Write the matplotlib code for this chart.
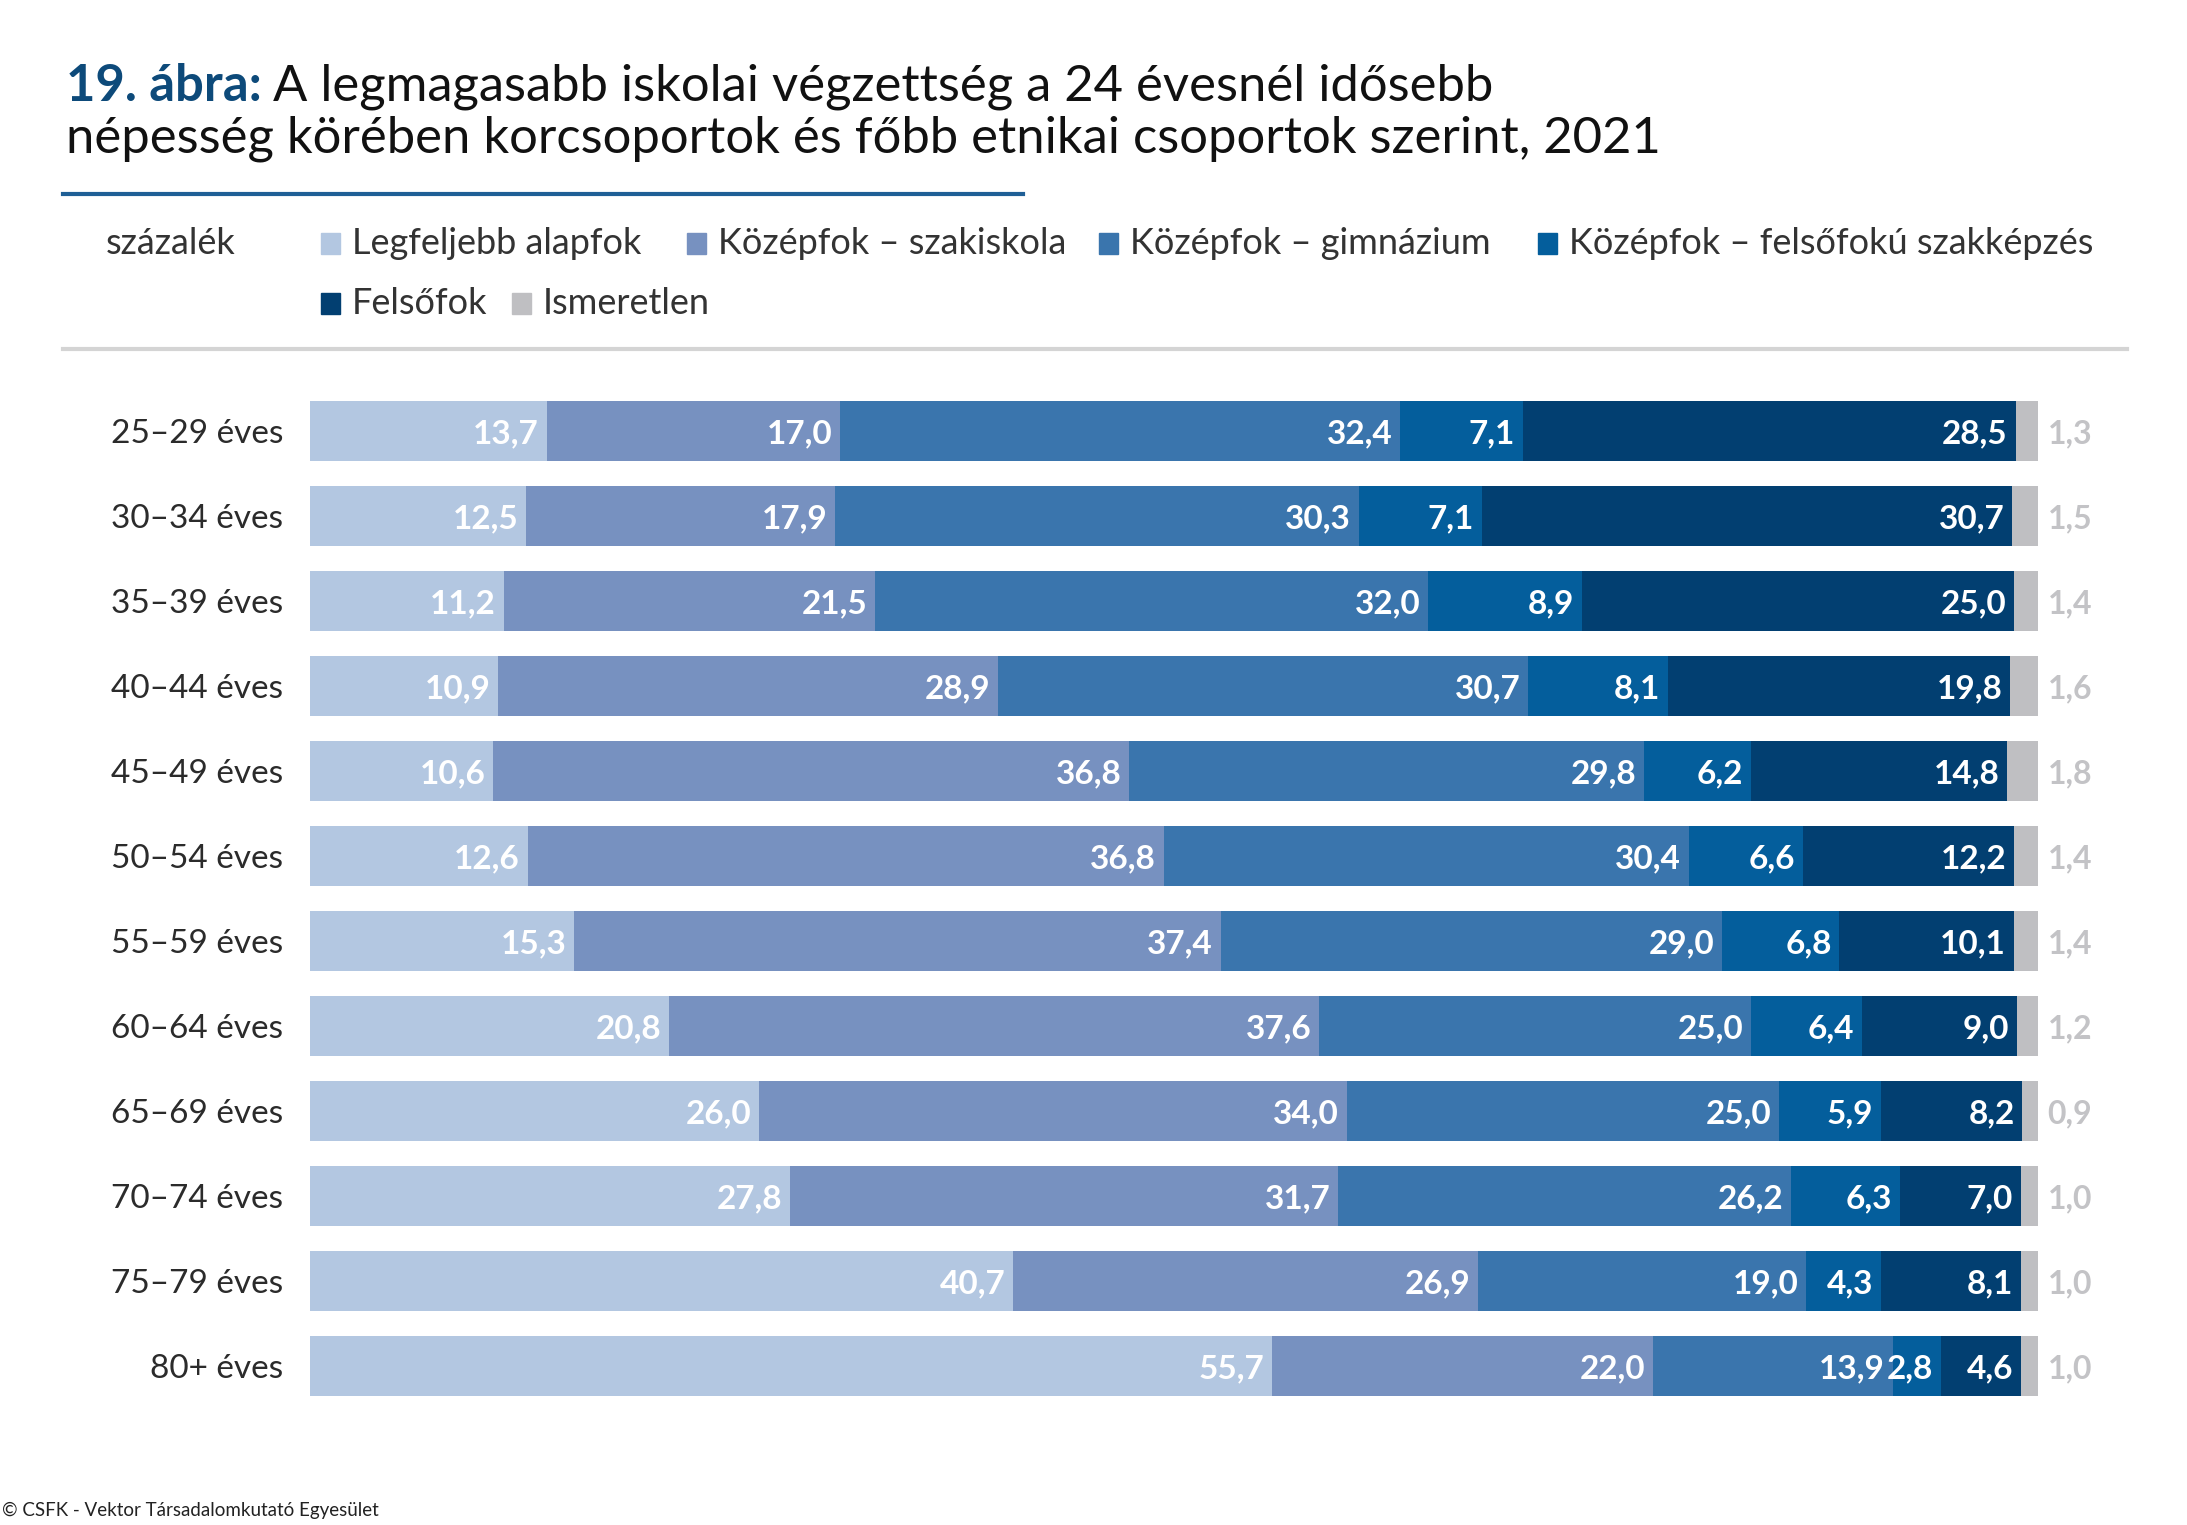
import matplotlib
matplotlib.use("Agg")
import matplotlib.pyplot as plt
from matplotlib.patches import Rectangle
from matplotlib.lines import Line2D
import numpy as np

plt.rcParams['font.family'] = ['Lato', 'DejaVu Sans']

# Data
age_groups = ["25–29 éves", "30–34 éves", "35–39 éves", "40–44 éves", "45–49 éves",
              "50–54 éves", "55–59 éves", "60–64 éves", "65–69 éves", "70–74 éves",
              "75–79 éves", "80+ éves"]
series_names = ["Legfeljebb alapfok", "Középfok – szakiskola", "Középfok – gimnázium",
                "Középfok – felsőfokú szakképzés", "Felsőfok", "Ismeretlen"]
alapfok = [13.7, 12.5, 11.2, 10.9, 10.6, 12.6, 15.3, 20.8, 26.0, 27.8, 40.7, 55.7]
szakiskola = [17.0, 17.9, 21.5, 28.9, 36.8, 36.8, 37.4, 37.6, 34.0, 31.7, 26.9, 22.0]
gimnazium = [32.4, 30.3, 32.0, 30.7, 29.8, 30.4, 29.0, 25.0, 25.0, 26.2, 19.0, 13.9]
szakkepzes = [7.1, 7.1, 8.9, 8.1, 6.2, 6.6, 6.8, 6.4, 5.9, 6.3, 4.3, 2.8]
felsofok = [28.5, 30.7, 25.0, 19.8, 14.8, 12.2, 10.1, 9.0, 8.2, 7.0, 8.1, 4.6]
ismeretlen = [1.3, 1.5, 1.4, 1.6, 1.8, 1.4, 1.4, 1.2, 0.9, 1.0, 1.0, 1.0]

colors = ["#b3c7e1", "#7791c0", "#3a75ad", "#045e9c", "#023f71", "#bfbfc2"]

W, H = 2187, 1525
fig = plt.figure(figsize=(W / 100, H / 100), dpi=100)

# axes placed in pixel terms
top_px, bot_px = 388.5, 1408.5
left_px, right_px = 310, 2038
ax = fig.add_axes([left_px / W, 1 - bot_px / H, (right_px - left_px) / W, (bot_px - top_px) / H])

series = [alapfok, szakiskola, gimnazium, szakkepzes, felsofok, ismeretlen]
y = np.arange(len(age_groups))
left = np.zeros(len(age_groups))
pad = 0.45
for k, (vals, col) in enumerate(zip(series, colors)):
    vals = np.array(vals)
    ax.barh(y, vals, left=left, height=0.70, color=col, edgecolor="none")
    for i, v in enumerate(vals):
        txt = f"{v:.1f}".replace(".", ",")
        if k == len(series) - 1:
            ax.text(left[i] + v + 0.55, y[i] + 0.03, txt, ha="left", va="center",
                    color="#c3c3c6", fontsize=23, fontweight="bold")
        else:
            ax.text(left[i] + v - pad, y[i] + 0.03, txt, ha="right", va="center",
                    color="white", fontsize=24, fontweight="bold")
    left += vals

ax.set_xlim(0, 100)
ax.set_ylim(len(age_groups) - 0.5, -0.5)
ax.set_yticks(y)
ax.set_yticklabels(age_groups, fontsize=24, color="#2b2b2b")
ax.tick_params(axis="y", length=0, pad=19.5)
ax.set_xticks([])
for s in ax.spines.values():
    s.set_visible(False)

# title: bold blue prefix followed by regular text
t1 = fig.text(66 / W, 1 - 101 / H, "19. ábra:", fontsize=36.5, fontweight="bold", color="#0d4a7a",
              ha="left", va="baseline")
fig.canvas.draw()
w1 = t1.get_window_extent(fig.canvas.get_renderer()).width
fig.text((66 + w1 + 11) / W, 1 - 101 / H, "A legmagasabb iskolai végzettség a 24 évesnél idősebb",
         fontsize=36.5, color="#111111", ha="left", va="baseline")
fig.text(66 / W, 1 - 152 / H, "népesség körében korcsoportok és főbb etnikai csoportok szerint, 2021",
         fontsize=36.5, color="#111111", ha="left", va="baseline")

# rules
fig.add_artist(Line2D([63 / W, 1023 / W], [1 - 194 / H] * 2, color="#1f5f96", lw=3))
fig.add_artist(Line2D([63 / W, 2127 / W], [1 - 349 / H] * 2, color="#d4d4d4", lw=3))

# legend
fig.text(106 / W, 1 - 243 / H, "százalék", fontsize=26, color="#333333", ha="left", va="center")
leg_pos = [(321, 243), (687, 243), (1099, 243), (1538, 243), (321, 303), (512, 303)]
for (px, py), name, col in zip(leg_pos, series_names, colors):
    fig.add_artist(Rectangle((px / W, 1 - (py + 11) / H), 19 / W, 21 / H,
                             transform=fig.transFigure, color=col))
    fig.text((px + 31) / W, 1 - py / H, name, fontsize=26, color="#333333",
             ha="left", va="center")

fig.text(2 / W, 1 - 1510 / H, "© CSFK - Vektor Társadalomkutató Egyesület", fontsize=13.5,
         color="#222222", ha="left", va="center")

fig.savefig("out.png", dpi=100)
